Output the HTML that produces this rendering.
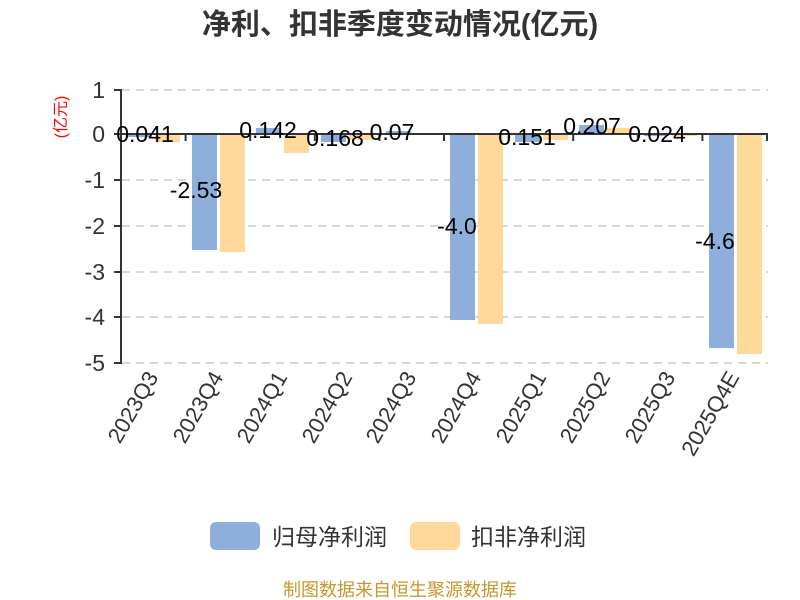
<!DOCTYPE html>
<html><head><meta charset="utf-8"><style>body{margin:0;background:#fff}svg{display:block}</style></head>
<body>
<svg width="800" height="600" xmlns="http://www.w3.org/2000/svg" font-family="'Liberation Sans','Noto Sans CJK SC',sans-serif">
<text x="400" y="34" text-anchor="middle" font-size="29" font-weight="bold" fill="#333">净利、扣非季度变动情况(亿元)</text>
<text transform="translate(66,117) rotate(-90)" text-anchor="middle" font-size="16" fill="#f00">(亿元)</text>
<g stroke="#ccc" stroke-width="1.5" stroke-dasharray="8,6">
<line x1="122" y1="90" x2="768" y2="90"/><line x1="122" y1="180" x2="768" y2="180"/><line x1="122" y1="226" x2="768" y2="226"/><line x1="122" y1="272" x2="768" y2="272"/><line x1="122" y1="317" x2="768" y2="317"/><line x1="122" y1="363" x2="768" y2="363"/>
</g>
<g font-size="23" fill="#333" text-anchor="end">
<text x="105" y="98">1</text><text x="105" y="142">0</text><text x="105" y="188">-1</text><text x="105" y="234">-2</text><text x="105" y="280">-3</text><text x="105" y="325">-4</text><text x="105" y="371">-5</text>
</g>
<g fill="#8eaedb">
<rect x="127" y="134" width="25" height="3"/>
<rect x="192" y="134" width="25" height="116"/>
<rect x="256" y="128" width="25" height="6"/>
<rect x="321" y="134" width="25" height="8"/>
<rect x="386" y="131" width="25" height="3"/>
<rect x="450" y="134" width="25" height="186"/>
<rect x="515" y="134" width="25" height="8"/>
<rect x="579" y="125" width="25" height="9"/>
<rect x="644" y="134" width="25" height="2"/>
<rect x="709" y="134" width="25" height="214"/>
</g>
<g fill="#fed99a">
<rect x="155" y="134" width="25" height="8"/>
<rect x="220" y="134" width="25" height="118"/>
<rect x="284" y="134" width="25" height="19"/>
<rect x="349" y="134" width="25" height="6"/>
<rect x="414" y="133" width="25" height="2"/>
<rect x="478" y="134" width="25" height="190"/>
<rect x="543" y="134" width="25" height="6"/>
<rect x="607" y="128" width="25" height="6"/>
<rect x="672" y="134" width="25" height="2"/>
<rect x="737" y="134" width="25" height="220"/>
</g>
<g stroke="#333" stroke-width="2">
<line x1="121" y1="89" x2="121" y2="364"/>
<line x1="114" y1="90" x2="121" y2="90"/><line x1="114" y1="134" x2="121" y2="134"/><line x1="114" y1="180" x2="121" y2="180"/><line x1="114" y1="226" x2="121" y2="226"/><line x1="114" y1="272" x2="121" y2="272"/><line x1="114" y1="317" x2="121" y2="317"/><line x1="114" y1="363" x2="121" y2="363"/>
<line x1="121" y1="134" x2="768" y2="134"/>
<line x1="185.6" y1="134" x2="185.6" y2="141"/><line x1="250.2" y1="134" x2="250.2" y2="141"/><line x1="314.8" y1="134" x2="314.8" y2="141"/><line x1="379.4" y1="134" x2="379.4" y2="141"/><line x1="444" y1="134" x2="444" y2="141"/><line x1="508.6" y1="134" x2="508.6" y2="141"/><line x1="573.2" y1="134" x2="573.2" y2="141"/><line x1="637.8" y1="134" x2="637.8" y2="141"/><line x1="702.4" y1="134" x2="702.4" y2="141"/><line x1="767" y1="134" x2="767" y2="141"/>
</g>
<g font-size="23" fill="#000" text-anchor="middle">
<text x="145" y="142">0.041</text>
<text x="196" y="198">-2.53</text>
<text x="268" y="138">0.142</text>
<text x="335" y="146">0.168</text>
<text x="392" y="140">0.07</text>
<text x="457" y="234">-4.0</text>
<text x="527" y="145">0.151</text>
<text x="592" y="134">0.207</text>
<text x="657" y="142">0.024</text>
<text x="715" y="249">-4.6</text>
</g>
<g font-size="22" fill="#333" text-anchor="end">
<text transform="translate(159,377) rotate(-60)">2023Q3</text>
<text transform="translate(224,377) rotate(-60)">2023Q4</text>
<text transform="translate(288,377) rotate(-60)">2024Q1</text>
<text transform="translate(353,377) rotate(-60)">2024Q2</text>
<text transform="translate(417,377) rotate(-60)">2024Q3</text>
<text transform="translate(482,377) rotate(-60)">2024Q4</text>
<text transform="translate(547,377) rotate(-60)">2025Q1</text>
<text transform="translate(611,377) rotate(-60)">2025Q2</text>
<text transform="translate(676,377) rotate(-60)">2025Q3</text>
<text transform="translate(740,377) rotate(-60)">2025Q4E</text>
</g>
<rect x="210" y="522" width="50" height="28" rx="6" fill="#8eaedb"/>
<text x="272" y="545" font-size="23" fill="#333">归母净利润</text>
<rect x="410" y="522" width="50" height="28" rx="6" fill="#fed99a"/>
<text x="471" y="545" font-size="23" fill="#333">扣非净利润</text>
<text x="400" y="596" text-anchor="middle" font-size="18" fill="#c8962a">制图数据来自恒生聚源数据库</text>
</svg>
</body></html>
